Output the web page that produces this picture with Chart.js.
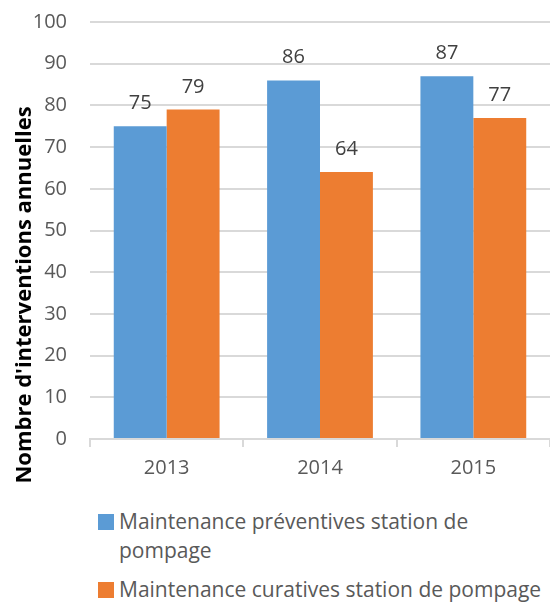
<!DOCTYPE html>
<html>
<head>
<meta charset="utf-8">
<script src="https://cdn.jsdelivr.net/npm/chart.js@4.4.1/dist/chart.umd.min.js"></script>
<style>
  html, body { margin: 0; padding: 0; background: #fff; overflow: hidden; }
  #wrap { position: relative; width: 550px; height: 603px; font-family: "Open Sans", sans-serif; }
  #chart { position: absolute; left: 0; top: 0; }
  #ytitle {
    position: absolute; left: -228px; top: 281px; width: 500px; text-align: center;
    font-weight: bold; font-size: 22px; line-height: 28px; color: #000;
    transform: rotate(-90deg); white-space: nowrap;
  }
  #legend { position: absolute; left: 98px; top: 507px; color: #595959; font-size: 21px; }
  .item { display: flex; align-items: flex-start; margin-bottom: 10px; }
  .box { width: 16px; height: 16px; margin-top: 7px; margin-right: 5px; flex: none; }
  .txt { max-width: 430px; line-height: 29px; }
</style>
</head>
<body>
<div id="wrap">
  <canvas id="chart" width="550" height="490"></canvas>
  <div id="ytitle">Nombre d'interventions annuelles</div>
  <div id="legend"></div>
</div>
<script>
// Données du graphique
const annees = ['2013', '2014', '2015'];
const preventives = [75, 86, 87];
const curatives = [79, 64, 77];
const seriesNoms = ['Maintenance préventives station de pompage', 'Maintenance curatives station de pompage'];
const couleurs = ['#5B9BD5', '#ED7D31'];
const yTicks = [0, 10, 20, 30, 40, 50, 60, 70, 80, 90, 100];

// étiquettes de valeur au-dessus des barres
const valeursPlugin = {
    id: 'valeurs',
    afterDatasetsDraw(chart) {
        const ctx = chart.ctx;
        ctx.save();
        ctx.font = '20px "Open Sans"';
        ctx.fillStyle = '#404040';
        ctx.textAlign = 'center';
        ctx.textBaseline = 'alphabetic';
        chart.data.datasets.forEach((ds, i) => {
            chart.getDatasetMeta(i).data.forEach((bar, j) => {
                ctx.fillText(ds.data[j], bar.x, bar.y - 17);
            });
        });
        ctx.restore();
    }
};

new Chart(document.getElementById('chart').getContext('2d'), {
    type: 'bar',
    data: {
        labels: annees,
        datasets: [
            { label: seriesNoms[0], data: preventives, backgroundColor: couleurs[0], borderWidth: 0 },
            { label: seriesNoms[1], data: curatives, backgroundColor: couleurs[1], borderWidth: 0 }
        ]
    },
    options: {
        responsive: false,
        animation: false,
        layout: { padding: { top: 22, left: 0, right: 0, bottom: 0 } },
        datasets: { bar: { categoryPercentage: 0.69, barPercentage: 1 } },
        scales: {
            x: {
                grid: { drawOnChartArea: false, drawTicks: true, tickLength: 8, color: '#d9d9d9', lineWidth: 2 },
                border: { display: true, color: '#d9d9d9', width: 2 },
                ticks: { color: '#595959', font: { family: 'Open Sans', size: 20 }, padding: 9 },
                afterFit: (s) => { s.height = 51; s.paddingLeft = 0; s.paddingRight = 0; }
            },
            y: {
                min: 0, max: 100,
                afterBuildTicks: (s) => { s.ticks = yTicks.map(v => ({ value: v })); },
                grid: { color: '#d9d9d9', lineWidth: 2, drawTicks: false },
                border: { display: false },
                ticks: { color: '#595959', font: { family: 'Open Sans', size: 20 }, padding: 23 },
                afterFit: (s) => { s.width = 90; s.paddingTop = 0; s.paddingBottom = 0; }
            }
        },
        plugins: { legend: { display: false }, tooltip: { enabled: false } }
    },
    plugins: [valeursPlugin]
});

// légende HTML (retour à la ligne comme dans l'original)
const legend = document.getElementById('legend');
seriesNoms.forEach((nom, i) => {
    legend.innerHTML += `<div class="item"><span class="box" style="background:${couleurs[i]}"></span><span class="txt">${nom}</span></div>`;
});
</script>
</body>
</html>
